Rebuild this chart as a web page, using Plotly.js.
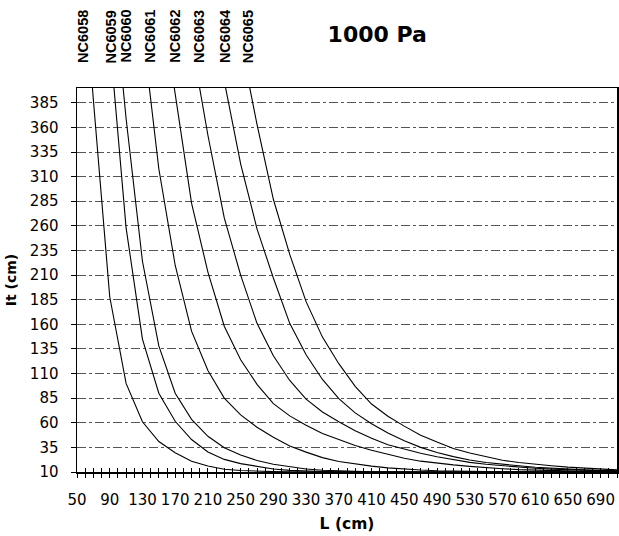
<!DOCTYPE html>
<html><head><meta charset="utf-8">
<script src="https://cdn.plot.ly/plotly-3.0.1.min.js"></script>
<style>html,body{margin:0;padding:0;background:#fff}#chart{width:619px;height:536px}</style>
</head><body><div id="chart"></div>
<script>
const L = [50,70,90,110,130,150,170,190,210,230,250,270,290,310,330,350,370,390,410,430,450,470,490,510,530,550,570,590,610,630,650,670,690,710];
const seriesNames = ['NC6058','NC6059','NC6060','NC6061','NC6062','NC6063','NC6064','NC6065'];
const NC6058 = [600,388,188,100,61,41,29.5,21,16,12.8,11.5,10.8,10.4,10.2,10.1,10,10,10,10,10,10,10,10,10,10,10,10,10,10,10,10,10,10,10];
const NC6059 = [null,null,450,258,145,90,61.5,43,30.4,22.8,18.5,15.4,13,11.6,10.9,10.5,10.3,10.15,10.05,10,10,10,10,10,10,10,10,10,10,10,10,10,10,10];
const NC6060 = [null,null,540,369,224,138,90,63.5,46.3,34.7,27.2,21.7,17.9,15.2,13.1,11.8,11,10.6,10.3,10.15,10.05,10,10,10,10,10,10,10,10,10,10,10,10,10];
const NC6061 = [null,null,null,null,460,318,220,153,113,85,68,55.5,45.3,36.5,30.2,24.6,20.6,18,16,14.2,12.9,12,11.3,10.9,10.6,10.4,10.25,10.15,10.1,10.05,10,10,10,10];
const NC6062 = [null,null,null,null,null,505,394,283,213,158,124,99,79.5,67,57.5,49,43,37,32,28.2,24,21,18.8,17.2,15.7,14.3,13.3,12.4,11.8,11.3,10.9,10.6,10.4,10.3];
const NC6063 = [null,null,null,null,null,null,null,447,352,268,210,161,128,103,84,71,61,52,44.2,37.7,33,29,25.5,22.5,19.8,17.8,16.3,15,13.8,12.9,12.2,11.6,11.2,10.9];
const NC6064 = [null,null,null,null,null,null,null,null,null,407,323,257,207,161,129,104,84.5,70,59,49.6,41.8,35,29.8,25.6,22.2,19.7,17.8,16.3,14.9,13.8,12.9,12.2,11.6,11.1];
const NC6065 = [null,null,null,null,null,null,null,null,null,null,447,363,287,231,183,147,120,97,79,66.6,56.6,47.4,40.4,33.9,29.3,25.3,21.9,19.6,17.8,16.4,15,13.9,12.9,12.2];
const seriesValues = [NC6058,NC6059,NC6060,NC6061,NC6062,NC6063,NC6064,NC6065];
const yTop = 400;

const traces = seriesValues.map((vals, i) => ({
  type: 'scatter', mode: 'lines', x: L, y: vals, name: seriesNames[i],
  line: {color: '#000', width: 1.1}, hoverinfo: 'skip', showlegend: false
}));
// helper trace so the overlaid axis (crossing ticks) is drawn
traces.push({type:'scatter', mode:'lines', x:[], y:[], xaxis:'x2', yaxis:'y', showlegend:false, hoverinfo:'skip'});

// label each series where it meets the top of the plot
const labelShift = [-9,-3,3,1,1,0,0,-1];
const annotations = seriesValues.map((vals, i) => {
  let xc = L[0];
  for (let k = 0; k < vals.length - 1; k++) {
    const a = vals[k], b = vals[k+1];
    if (a !== null && b !== null && a >= yTop && b < yTop) {
      xc = L[k] + (a - yTop) / (a - b) * (L[k+1] - L[k]);
      break;
    }
  }
  return {
    text: '<b>' + seriesNames[i] + '</b>', x: xc, xref: 'x', y: 1.06, yref: 'paper',
    xanchor: 'center', yanchor: 'bottom', textangle: -90, showarrow: false,
    xshift: labelShift[i], font: {family: '"Liberation Sans", Arial, sans-serif', size: 14.5, color: '#000'}
  };
});

const layout = {
  width: 619, height: 536,
  margin: {l: 77, r: 2, t: 88, b: 64, pad: 0},
  paper_bgcolor: '#fff', plot_bgcolor: '#fff', showlegend: false,
  font: {family: '"DejaVu Sans", Arial, sans-serif', size: 15, color: '#000'},
  title: {text: '<b>1000 Pa</b>', font: {size: 22, color: '#000'}, xref: 'paper', x: 0.556, xanchor: 'center', yref: 'container', y: 1 - 34/536, yanchor: 'middle'},
  xaxis: {
    range: [50, 710], tickmode: 'linear', tick0: 50, dtick: 40,
    ticks: 'outside', ticklen: 4, tickcolor: '#000', tickwidth: 1,
    minor: {tick0: 50, dtick: 10, ticks: 'outside', ticklen: 4, tickcolor: '#000', tickwidth: 1, showgrid: false},
    showline: true, linecolor: '#000', linewidth: 1.5, mirror: true,
    showgrid: false, zeroline: false, ticklabelstandoff: 9,
    tickfont: {size: 15},
    title: {text: '<b>L (cm)</b>', font: {size: 15.5}, standoff: 10}, automargin: false
  },
  xaxis2: {
    overlaying: 'x', anchor: 'y', side: 'bottom', range: [50, 710],
    tickmode: 'linear', tick0: 50, dtick: 10, ticks: 'inside', ticklen: 4,
    tickcolor: '#000', tickwidth: 1, showticklabels: false, showgrid: false,
    zeroline: false, showline: false
  },
  yaxis: {
    range: [10, 400], tickmode: 'linear', tick0: 10, dtick: 25,
    ticks: 'outside', ticklen: 5, tickcolor: '#000', tickwidth: 1,
    showline: true, linecolor: '#000', linewidth: 1.5, mirror: true,
    showgrid: true, gridcolor: '#555', gridwidth: 1, griddash: 'dashdot',
    zeroline: false, ticklabelstandoff: 9, tickfont: {size: 15},
    title: {text: '<b>It (cm)</b>', font: {size: 14}, standoff: 10}, automargin: false
  },
  annotations: annotations
};

Plotly.newPlot('chart', traces, layout, {staticPlot: true, displayModeBar: false});
</script>
</body></html>
